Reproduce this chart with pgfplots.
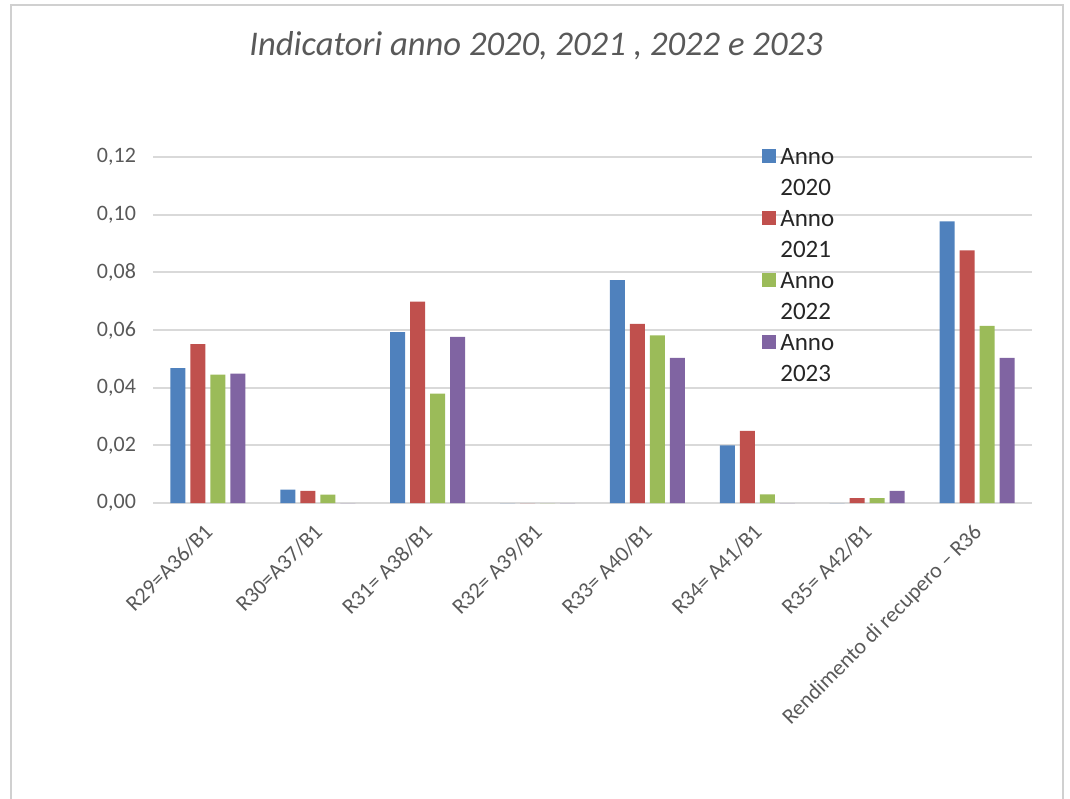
\documentclass[border=0pt]{standalone}
\usepackage{fontspec}
\setmainfont{Carlito}
\usepackage{pgfplots}
\pgfplotsset{compat=1.18}
\definecolor{c1}{HTML}{4F81BD}
\definecolor{c2}{HTML}{C0504D}
\definecolor{c3}{HTML}{9BBB59}
\definecolor{c4}{HTML}{8064A2}
\definecolor{txtgray}{HTML}{595959}
\definecolor{gridgray}{HTML}{D9D9D9}
\definecolor{framegray}{HTML}{D0D0D0}
\pgfplotstableread{
x  a2020  a2021  a2022  a2023
0  0.0468 0.0551 0.0445 0.0449
1  0.0046 0.0042 0.0029 0
2  0.0593 0.0698 0.0379 0.0576
3  0      0      0      0
4  0.0773 0.0621 0.0581 0.0503
5  0.0200 0.0250 0.0030 0
6  0      0.0017 0.0017 0.0042
7  0.0977 0.0876 0.0614 0.0503
}\datatable
\begin{document}
\begin{tikzpicture}[x=1pt,y=1pt]
\path[use as bounding box] (0,0) rectangle (535,399);
\draw[framegray, line width=1pt] (5.5,-10) rectangle (531.5,396.5);
\node[font=\fontsize{17.3}{20}\selectfont\itshape, text=txtgray] at (268,376) {Indicatori anno 2020, 2021 , 2022 e 2023};
\begin{axis}[
  at={(76.5pt,147.5pt)}, anchor=south west,
  scale only axis, width=439.5pt, height=173pt,
  xmin=-0.5, xmax=7.5, ymin=0, ymax=0.12,
  ytick={0,0.02,0.04,0.06,0.08,0.1,0.12},
  xtick={0,...,7},
  xticklabels={R29=A36/B1, R30=A37/B1, R31= A38/B1, R32= A39/B1, R33= A40/B1, R34= A41/B1, R35= A42/B1, Rendimento di recupero – R36},
  axis line style={draw=none},
  major tick length=0pt,
  ymajorgrids, grid style={gridgray, line width=1pt},
  ybar=2.5pt, bar width=7.5pt,
  /pgf/number format/fixed, /pgf/number format/fixed zerofill,
  /pgf/number format/precision=2, /pgf/number format/use comma,
  /pgf/number format/assume math mode=true,
  tick label style={font=\fontsize{11}{13}\selectfont, text=txtgray},
  yticklabel style={anchor=east, xshift=-5pt},
  xticklabel style={xshift=-2.5pt, yshift=-9.5pt, rotate=45, anchor=north east, inner sep=0pt},
  legend style={at={(0.686,1.05)}, anchor=north west, draw=none, fill=none,
    font=\fontsize{12.5}{15.5}\selectfont, text=black!85, nodes={align=left}, row sep=2pt},
  legend cell align=left,
  legend image code/.code={\fill[#1] (0pt,5.2pt) rectangle (7pt,12.2pt);},
]
\addplot[fill=c1, draw=none] table[x=x, y=a2020] {\datatable};
\addplot[fill=c2, draw=none] table[x=x, y=a2021] {\datatable};
\addplot[fill=c3, draw=none] table[x=x, y=a2022] {\datatable};
\addplot[fill=c4, draw=none] table[x=x, y=a2023] {\datatable};
\legend{Anno\\2020, Anno\\2021, Anno\\2022, Anno\\2023}
\end{axis}
\end{tikzpicture}
\end{document}
